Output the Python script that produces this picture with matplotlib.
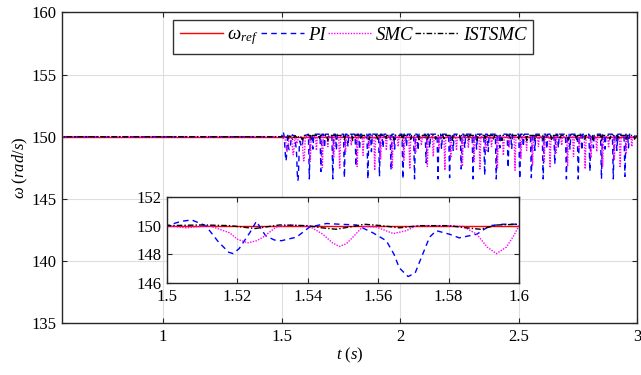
"""Speed response of four controllers under a load step at t = 1.5 s."""

import numpy as np
import matplotlib.pyplot as plt

plt.rcParams["font.family"] = ["Liberation Serif", "DejaVu Serif"]
plt.rcParams["mathtext.fontset"] = "custom"
plt.rcParams["mathtext.it"] = "Liberation Serif:italic"
plt.rcParams["mathtext.rm"] = "Liberation Serif"

W_REF = 150.0
T_START = 0.5
T_STEP = 1.5
T_END = 3.0

# detailed traces over the zoomed window 1.5 .. 1.6 s
pi_t_zoom = [1.500, 1.504, 1.507, 1.511, 1.5145, 1.5175, 1.5188, 1.5205, 1.5235, 1.5254, 1.528,
             1.5305, 1.5325, 1.5368, 1.5405, 1.5453, 1.549, 1.5538, 1.5585, 1.5623, 1.5645,
             1.566, 1.5685, 1.5705, 1.5718, 1.5746, 1.5765, 1.5803, 1.583, 1.588, 1.5917,
             1.5955, 1.600]
pi_v_zoom = [150.0, 150.3, 150.4, 150.0, 148.9, 148.15, 148.05, 148.4, 149.5, 150.3, 149.3,
             149.0, 148.95, 149.2, 149.9, 150.15, 150.1, 150.05, 149.5, 148.95, 148.0,
             147.05, 146.45, 146.7, 147.5, 149.2, 149.65, 149.4, 149.15, 149.4, 150.0,
             150.1, 150.1]

smc_t_zoom = [1.500, 1.5055, 1.512, 1.5178, 1.520, 1.523, 1.5255, 1.5273, 1.531, 1.5349, 1.5405,
              1.5443, 1.547, 1.549, 1.551, 1.5528, 1.5557, 1.5595, 1.5643, 1.568, 1.571,
              1.5785, 1.5841, 1.588, 1.591, 1.5936, 1.5964, 1.5985, 1.600]
smc_v_zoom = [150.0, 149.85, 150.0, 149.5, 149.05, 148.8, 148.95, 149.2, 149.9, 150.05, 149.95,
              149.4, 148.8, 148.55, 148.75, 149.2, 149.95, 149.9, 149.45, 149.65, 150.0,
              150.0, 149.95, 149.4, 148.5, 148.05, 148.5, 149.3, 150.0]

ist_t_zoom = [1.500, 1.510, 1.518, 1.525, 1.532, 1.540, 1.544, 1.548, 1.553, 1.556, 1.561,
              1.566, 1.572, 1.580, 1.585, 1.589, 1.594, 1.600]
ist_v_zoom = [150.0, 150.05, 150.0, 149.8, 150.05, 150.0, 149.85, 149.75, 149.95, 150.1, 150.0,
              149.85, 150.0, 150.0, 149.85, 149.75, 150.05, 150.1]

# speed dips after 1.6 s (time of each minimum and its value)
pi_dip_t = [1.617, 1.632, 1.666, 1.681, 1.716, 1.731, 1.765, 1.780, 1.814, 1.829, 1.864, 1.879,
            1.913, 1.928, 1.962, 1.977, 2.012, 2.027, 2.061, 2.076, 2.110, 2.125, 2.160, 2.175,
            2.209, 2.224, 2.258, 2.273, 2.308, 2.323, 2.357, 2.372, 2.406, 2.421, 2.456, 2.471,
            2.505, 2.520, 2.554, 2.569, 2.604, 2.619, 2.653, 2.668, 2.702, 2.717, 2.752, 2.767,
            2.801, 2.816, 2.850, 2.865, 2.900, 2.915, 2.949, 2.964]
pi_dip_v = [146.6, 149.0, 147.2, 149.1, 146.6, 148.9, 146.7, 149.2, 147.6, 149.0, 146.6, 148.8,
            146.8, 149.1, 147.3, 149.0, 146.6, 149.2, 146.6, 148.9, 147.9, 149.1, 146.6, 149.0,
            146.7, 148.9, 147.4, 149.1, 146.6, 149.0, 146.9, 148.8, 146.6, 149.1, 147.5, 149.0,
            146.6, 149.2, 146.7, 148.9, 146.6, 149.0, 147.8, 149.1, 146.6, 149.0, 146.6, 148.9,
            147.2, 149.1, 146.6, 149.0, 146.6, 148.9, 146.8, 149.1]

smc_dip_t = [1.621, 1.647, 1.672, 1.695, 1.720, 1.745, 1.770, 1.794, 1.819, 1.844, 1.868, 1.893,
             1.918, 1.942, 1.967, 1.992, 2.016, 2.041, 2.066, 2.090, 2.115, 2.140, 2.164, 2.189,
             2.214, 2.238, 2.263, 2.288, 2.312, 2.337, 2.362, 2.386, 2.411, 2.436, 2.460, 2.485,
             2.510, 2.534, 2.559, 2.584, 2.608, 2.633, 2.658, 2.682, 2.707, 2.732, 2.756, 2.781,
             2.806, 2.830, 2.855, 2.880, 2.904, 2.929, 2.954, 2.978]
smc_dip_v = [148.0, 148.9, 147.5, 149.2, 148.3, 147.4, 148.8, 149.3, 147.6, 148.5, 149.1, 147.3,
             148.2, 148.9, 147.5, 149.2, 148.1, 147.4, 148.7, 149.3, 147.6, 148.4, 149.0, 147.3,
             148.3, 148.9, 147.6, 149.1, 148.0, 147.4, 148.8, 149.2, 147.5, 148.5, 149.1, 147.3,
             148.2, 148.9, 147.7, 149.2, 148.0, 147.5, 148.7, 149.3, 147.6, 148.4, 149.0, 147.4,
             148.3, 148.8, 147.6, 149.1, 148.1, 147.5, 148.6, 149.2]

ist_dip_t = [1.625, 1.660, 1.695, 1.730, 1.765, 1.800, 1.835, 1.870, 1.905, 1.940, 1.975, 2.010,
             2.045, 2.080, 2.115, 2.150, 2.185, 2.220, 2.255, 2.290, 2.325, 2.360, 2.395, 2.430,
             2.465, 2.500, 2.535, 2.570, 2.605, 2.640, 2.675, 2.710, 2.745, 2.780, 2.815, 2.850,
             2.885, 2.920, 2.955, 2.990]
ist_dip_v = [149.75, 149.8, 149.7, 149.8, 149.75, 149.7, 149.8, 149.75, 149.7, 149.8, 149.75,
             149.7, 149.8, 149.75, 149.7, 149.8, 149.75, 149.7, 149.8, 149.75, 149.7, 149.8,
             149.75, 149.7, 149.8, 149.75, 149.7, 149.8, 149.75, 149.7, 149.8, 149.75, 149.7,
             149.8, 149.75, 149.7, 149.8, 149.75, 149.7, 149.8]

DIP_HALF_WIDTH = 0.004


def full_trace(t_zoom, v_zoom, dip_t, dip_v, peak):
    """Steady part, the zoomed window, then each later dip as a short V."""
    t = [T_START, T_STEP] + list(t_zoom)
    v = [W_REF, W_REF] + list(v_zoom)
    for td, vd in zip(dip_t, dip_v):
        t += [td - DIP_HALF_WIDTH, td, td + DIP_HALF_WIDTH]
        v += [peak, vd, peak]
    t.append(T_END)
    v.append(W_REF)
    return np.array(t), np.array(v)


def draw_curves(ax, traces):
    for t, v, style in traces:
        ax.plot(t, v, **style)


def main() -> None:
    pi_t, pi_v = full_trace(pi_t_zoom, pi_v_zoom, pi_dip_t, pi_dip_v, 150.2)
    smc_t, smc_v = full_trace(smc_t_zoom, smc_v_zoom, smc_dip_t, smc_dip_v, 150.0)
    ist_t, ist_v = full_trace(ist_t_zoom, ist_v_zoom, ist_dip_t, ist_dip_v, 150.1)
    ref_t = np.array([T_START, T_END])
    ref_v = np.array([W_REF, W_REF])

    styles = {
        "ref": dict(color="#ff0000", lw=1.0, ls="-", label=r"$\omega_{ref}$"),
        "pi": dict(color="#0000ff", lw=1.0, ls=(0, (4, 3)), label="PI"),
        "smc": dict(color="#ff00ff", lw=1.0, ls=(0, (1, 1)), label="SMC"),
        "ist": dict(color="black", lw=1.0, ls=(0, (4, 1.5, 1, 1.5)), label="ISTSMC"),
    }
    traces = [
        (ref_t, ref_v, styles["ref"]),
        (pi_t, pi_v, styles["pi"]),
        (smc_t, smc_v, styles["smc"]),
        (ist_t, ist_v, styles["ist"]),
    ]

    fig = plt.figure(figsize=(6.41, 3.75), dpi=100)
    ax = fig.add_axes([0.0967, 0.1387, 0.8971, 0.828])
    draw_curves(ax, traces)
    ax.set_xlim(0.573, 3.0)
    ax.set_ylim(135, 160)
    ax.set_xticks([1, 1.5, 2, 2.5, 3])
    ax.set_xticklabels(["1", "1.5", "2", "2.5", "3"])
    ax.set_yticks([135, 140, 145, 150, 155, 160])
    ax.set_xlabel(r"$t$ $(s)$", fontsize=12, labelpad=1)
    ax.set_ylabel(r"$\omega$ $(rad/s)$", fontsize=12, labelpad=1)

    # zoomed view of the first dips after the step
    axin = fig.add_axes([0.2605, 0.2453, 0.5492, 0.2294])
    draw_curves(axin, traces)
    axin.set_xlim(1.5, 1.6)
    axin.set_ylim(146, 152)
    axin.set_xticks([1.5, 1.52, 1.54, 1.56, 1.58, 1.6])
    axin.set_xticklabels(["1.5", "1.52", "1.54", "1.56", "1.58", "1.6"])
    axin.set_yticks([146, 148, 150, 152])

    for a in (ax, axin):
        a.grid(True, color="#dedede", lw=0.8)
        a.set_axisbelow(True)
        a.tick_params(direction="in", top=True, right=True, labelsize=12,
                      length=3.5, width=0.8, color="#262626", pad=4)
        for s in a.spines.values():
            s.set_color("#262626")
            s.set_linewidth(1.0)

    handles = [ax.lines[i] for i in range(4)]
    leg = ax.legend(handles=handles, loc="upper left", bbox_to_anchor=(0.27, 0.947),
                    bbox_transform=fig.transFigure, ncol=4, fontsize=13.5, frameon=True,
                    fancybox=False, edgecolor="black", handlelength=2.3,
                    handletextpad=0.25, columnspacing=0.1, borderpad=0.35, borderaxespad=0)
    leg.get_frame().set_linewidth(1.0)
    for txt in leg.get_texts()[1:]:
        txt.set_fontstyle("italic")

    fig.savefig("out.png", dpi=100)


if __name__ == "__main__":
    main()
